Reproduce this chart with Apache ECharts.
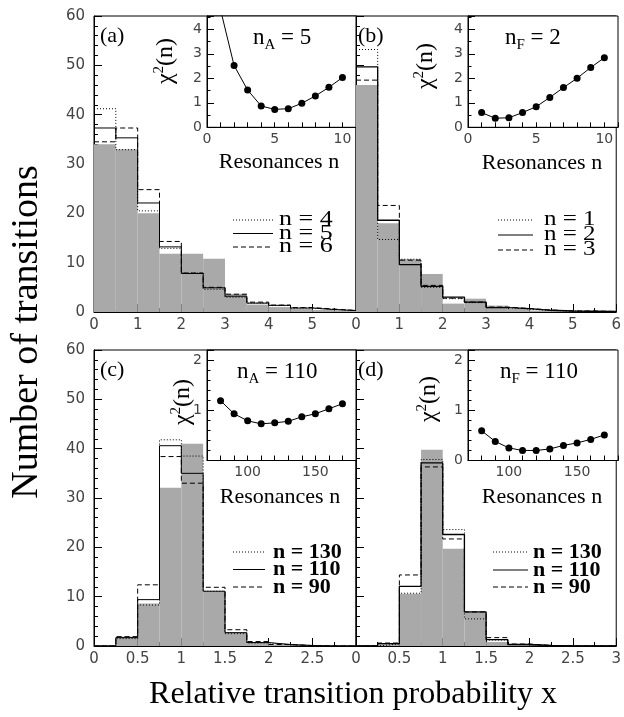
<!DOCTYPE html>
<html><head><meta charset="utf-8">
<script src="https://cdn.jsdelivr.net/npm/echarts@6/dist/echarts.min.js"></script>
<style>html,body{margin:0;padding:0;background:#fff}#c{width:624px;height:717px}</style>
</head><body><div id="c"></div><script>
// ---------- data ----------
const edgesAB = [0,0.5,1,1.5,2,2.5,3,3.5,4,4.5,5,5.5,6];
const edgesCD = [0,0.25,0.5,0.75,1,1.25,1.5,1.75,2,2.25,2.5,2.75,3];

// panel (a)
const dataA = [34, 33, 20, 11.8, 11.8, 10.8, 3.7, 1.5, 1.0, 0.6, 0.4, 0.3];
const n4A   = [41.2, 32.9, 20.5, 12.9, 7.9, 4.6, 3.0, 1.8, 1.3, 0.8, 0.5, 0.3];
const n5A   = [37.3, 35.3, 22.1, 13.2, 7.8, 4.9, 3.2, 1.8, 1.35, 0.8, 0.5, 0.3];
const n6A   = [34.5, 37.3, 24.8, 14.3, 7.9, 5.0, 3.6, 2.0, 1.4, 0.9, 0.6, 0.3];
// panel (b)
const dataB = [46, 18, 10.7, 7.7, 1.7, 2.7, 1.3, 0.6, 0.3, 0.2, 0.2, 0.1];
const n1B   = [53.2, 14.7, 10.7, 5.0, 2.7, 1.9, 0.9, 0.6, 0.3, 0.2, 0.1, 0.1];
const n2B   = [49.7, 18.6, 9.6, 5.2, 3.0, 2.0, 0.9, 0.7, 0.35, 0.2, 0.15, 0.1];
const n3B   = [47.0, 21.6, 10.5, 5.4, 2.8, 2.0, 1.0, 0.7, 0.4, 0.2, 0.2, 0.1];
// panel (c)
const dataC  = [0, 1.9, 8.6, 32.1, 41.0, 11.0, 2.8, 0.7, 0.3, 0, 0, 0];
const n130C  = [0, 1.5, 8.3, 41.8, 38.5, 11.1, 2.5, 0.6, 0.3, 0.1, 0, 0];
const n110C  = [0, 1.7, 9.4, 40.6, 35.0, 11.1, 2.7, 0.7, 0.3, 0.1, 0, 0];
const n90C   = [0, 1.9, 12.4, 38.4, 33.0, 11.9, 3.3, 0.9, 0.3, 0.1, 0, 0];
// panel (d)
const dataD  = [0, 0.5, 10.6, 39.8, 19.7, 6.9, 0.8, 0.3, 0, 0, 0, 0];
const n130D  = [0, 0.4, 10.7, 37.8, 23.6, 5.5, 1.2, 0.3, 0.1, 0, 0, 0];
const n110D  = [0, 0.5, 12.1, 37.1, 22.6, 6.9, 1.3, 0.3, 0.1, 0, 0, 0];
const n90D   = [0, 0.6, 14.4, 36.3, 21.7, 6.9, 1.7, 0.4, 0.1, 0, 0, 0];

// insets chi^2(n)
const resAB = [1,2,3,4,5,6,7,8,9,10];
const chiA  = [4.8, 2.52, 1.52, 0.87, 0.73, 0.76, 0.98, 1.28, 1.63, 2.03];
const chiB  = [0.6, 0.37, 0.39, 0.6, 0.84, 1.22, 1.62, 2.0, 2.44, 2.84];
const resCD = [80,90,100,110,120,130,140,150,160,170];
const chiC  = [1.19, 0.93, 0.79, 0.73, 0.75, 0.78, 0.87, 0.93, 1.03, 1.13];
const chiD  = [0.59, 0.38, 0.25, 0.2, 0.2, 0.23, 0.3, 0.35, 0.42, 0.51];

// tick labels
const yLabelsMain = [0,10,20,30,40,50,60];
const xLabelsA = [0,1,2,3,4,5];
const xLabelsB = [0,1,2,3,4,5,6];
const xLabelsC = [0,0.5,1,1.5,2,2.5];
const xLabelsD = [0,0.5,1,1.5,2,2.5,3];
const insetXLabelsAB = [0,5,10];
const insetXLabelsCD = [100,150];
const insetYLabelsAB = [0,1,2,3,4];
const insetYLabelsC = [1,2];
const insetYLabelsD = [0,1,2];

// texts
const panelLabels = ['(a)','(b)','(c)','(d)'];
const fitLabels = [['A','5'],['F','2'],['A','110'],['F','110']];
const legendA = ['n = 4','n = 5','n = 6'];
const legendB = ['n = 1','n = 2','n = 3'];
const legendC = ['n = 130','n = 110','n = 90'];
const legendD = ['n = 130','n = 110','n = 90'];

// ---------- layout ----------
const SERIF = 'Liberation Serif';
const SANS = 'DejaVu Sans';
const mainGrids = [
  {left:94, top:16, width:262, height:296},
  {left:356, top:16, width:262, height:296},
  {left:94, top:350, width:262, height:296},
  {left:356, top:350, width:262, height:296}
];
const insetGrids = [
  {left:207, top:16, width:149, height:111.3},
  {left:468, top:16, width:150, height:111.3},
  {left:207, top:350, width:149, height:110.5},
  {left:468, top:350, width:150, height:110.5}
];
const grid = mainGrids.map(g => Object.assign({show:true, borderColor:'#000', borderWidth:1, backgroundColor:'transparent'}, g))
  .concat(insetGrids.map(g => Object.assign({show:true, borderColor:'#000', borderWidth:1, backgroundColor:'#fff'}, g)));

const fmt = list => v => list.some(l => Math.abs(l - v) < 1e-6) ? String(+v.toFixed(2)) : '';
const black = {color:'#000', width:1};

function axX(gi, min, max, interval, labels, minorSplit, tickLen, fs){
  return {type:'value', gridIndex:gi, min, max, interval,
    axisLine:{show:true, onZero:false, lineStyle:black},
    axisTick:{show:true, inside:true, length:tickLen, lineStyle:black},
    minorTick:{show:minorSplit>0, splitNumber:minorSplit||1, length:tickLen/2, lineStyle:black},
    splitLine:{show:false}, minorSplitLine:{show:false},
    axisLabel:{show:!!labels, formatter: labels ? fmt(labels) : '', fontSize:fs, color:'#444', fontFamily:SANS, margin:6}};
}
function axY(gi, min, max, interval, labels, minorSplit, tickLen, fs){
  return {type:'value', gridIndex:gi, min, max, interval,
    axisLine:{show:true, onZero:false, lineStyle:black},
    axisTick:{show:true, inside:true, length:tickLen, lineStyle:black},
    minorTick:{show:minorSplit>0, splitNumber:minorSplit||1, length:tickLen/2, lineStyle:black},
    splitLine:{show:false}, minorSplitLine:{show:false},
    axisLabel:{show:!!labels, formatter: labels ? fmt(labels) : '', fontSize:fs, color:'#444', fontFamily:SANS, margin:6}};
}

const xAxis = [
  axX(0, 0, 6, 1, xLabelsA, 2, 8, 15),
  axX(1, 0, 6, 1, xLabelsB, 2, 8, 15),
  axX(2, 0, 3, 0.5, xLabelsC, 2, 8, 15),
  axX(3, 0, 3, 0.5, xLabelsD, 2, 8, 15),
  axX(4, 0, 11, 1, insetXLabelsAB, 0, 5, 14),
  axX(5, 0, 11, 1, insetXLabelsAB, 0, 5, 14),
  axX(6, 70, 180, 10, insetXLabelsCD, 0, 5, 14),
  axX(7, 70, 180, 10, insetXLabelsCD, 0, 5, 14)
];
const yAxis = [
  axY(0, 0, 60, 10, yLabelsMain, 5, 8, 15),
  axY(1, 0, 60, 10, null, 5, 8, 15),
  axY(2, 0, 60, 10, yLabelsMain, 5, 8, 15),
  axY(3, 0, 60, 10, null, 5, 8, 15),
  axY(4, 0, 4.54, 1, insetYLabelsAB, 2, 7, 14),
  axY(5, 0, 4.54, 1, insetYLabelsAB, 2, 7, 14),
  axY(6, 0, 2.2, 1, insetYLabelsC, 5, 7, 14),
  axY(7, 0, 2.2, 1, insetYLabelsD, 5, 7, 14)
];
xAxis.forEach((a,i)=>{ if(i>=4) a.axisLabel.margin = 5; });
yAxis.forEach((a,i)=>{ if(i<4) a.axisLabel.margin = 9; else a.axisLabel.margin = 5; });

function histRender(params, api){
  const p0 = api.coord([api.value(0), api.value(2)]);
  const p1 = api.coord([api.value(1), 0]);
  return {type:'rect', shape:{x:p0[0], y:p0[1], width:p1[0]-p0[0], height:p1[1]-p0[1]},
    style:{fill:'#a9a9a9'}};
}
function dataSeries(gi, edges, vals){
  return {type:'custom', xAxisIndex:gi, yAxisIndex:gi, renderItem:histRender,
    encode:{x:[0,1], y:2}, data: vals.map((v,i)=>[edges[i], edges[i+1], v]), z:1, silent:true};
}
const dashStyles = {dotted:[1,2], solid:'solid', dashed:[5,3]};
function stepSeries(gi, edges, vals, style, w){
  return {type:'line', xAxisIndex:gi, yAxisIndex:gi, step:'end', showSymbol:false, symbol:'none',
    clip:true, silent:true, z:3,
    lineStyle:{color:'#000', width:w||1, type:dashStyles[style]},
    data: edges.map((e,i)=>[e, vals[Math.min(i, vals.length-1)]])};
}
function chiSeries(gi, xs, ys){
  return {type:'line', xAxisIndex:gi, yAxisIndex:gi, symbol:'circle', symbolSize:7, clip:true, silent:true, z:5,
    itemStyle:{color:'#000'}, lineStyle:{color:'#000', width:1},
    data: xs.map((x,i)=>[x, ys[i]])};
}

const series = [
  dataSeries(0, edgesAB, dataA),
  stepSeries(0, edgesAB, n4A, 'dotted'),
  stepSeries(0, edgesAB, n5A, 'solid'),
  stepSeries(0, edgesAB, n6A, 'dashed'),
  dataSeries(1, edgesAB, dataB),
  stepSeries(1, edgesAB, n1B, 'dotted'),
  stepSeries(1, edgesAB, n2B, 'solid', 1.3),
  stepSeries(1, edgesAB, n3B, 'dashed'),
  dataSeries(2, edgesCD, dataC),
  stepSeries(2, edgesCD, n130C, 'dotted'),
  stepSeries(2, edgesCD, n110C, 'solid'),
  stepSeries(2, edgesCD, n90C, 'dashed'),
  dataSeries(3, edgesCD, dataD),
  stepSeries(3, edgesCD, n130D, 'dotted'),
  stepSeries(3, edgesCD, n110D, 'solid', 1.3),
  stepSeries(3, edgesCD, n90D, 'dashed'),
  chiSeries(4, resAB, chiA),
  chiSeries(5, resAB, chiB),
  chiSeries(6, resCD, chiC),
  chiSeries(7, resCD, chiD)
];

// ---------- text graphics ----------
const graphic = [];
// main titles
graphic.push({type:'text', x:27, y:332, rotation:Math.PI/2, z:100, silent:true,
  style:{text:'Number of transitions', fontSize:38, fontFamily:SERIF, fill:'#000', align:'center', verticalAlign:'middle'}});
graphic.push({type:'text', x:353, y:695, z:100, silent:true,
  style:{text:'Relative transition probability x', fontSize:32, fontFamily:SERIF, fill:'#000', align:'center', verticalAlign:'middle'}});

// panel labels
const panelLabelPos = [[100,36],[358,36],[100,370],[358,370]];
panelLabels.forEach((t,i)=>graphic.push({type:'text', x:panelLabelPos[i][0], y:panelLabelPos[i][1], z:100, silent:true,
  style:{text:t, fontSize:22, fontFamily:SERIF, fill:'#000', align:'left', verticalAlign:'middle'}}));

// fit labels n_A = ...
const fitPos = [[253,38],[505,38],[237,372],[500,372]];
fitLabels.forEach((f,i)=>graphic.push({type:'text', x:fitPos[i][0], y:fitPos[i][1], z:100, silent:true,
  style:{text:'{m|n}{s|' + f[0] + '}{m| = ' + f[1] + '}', align:'left', verticalAlign:'middle',
    rich:{m:{fontSize:23, fontFamily:SERIF, fill:'#000', lineHeight:30, verticalAlign:'middle'},
          s:{fontSize:15, fontFamily:SERIF, fill:'#000', lineHeight:30, verticalAlign:'bottom'}}}}));

// chi^2(n) y names
const chiPos = [[166,61],[426,66],[183,402],[429,399]];
chiPos.forEach(p=>graphic.push({type:'text', x:p[0], y:p[1], rotation:Math.PI/2, z:100, silent:true,
  style:{text:'{m|\u03c7}{s|2}{m|(n)}', align:'center', verticalAlign:'middle',
    rich:{m:{fontSize:24, fontFamily:SERIF, fill:'#000', lineHeight:28, verticalAlign:'middle'},
          s:{fontSize:15, fontFamily:SERIF, fill:'#000', lineHeight:28, verticalAlign:'top'}}}}));

// Resonances n
const resPos = [[279,162],[542,163],[280,497],[542,497]];
resPos.forEach(p=>graphic.push({type:'text', x:p[0], y:p[1], z:100, silent:true,
  style:{text:'Resonances n', fontSize:22, fontFamily:SERIF, fill:'#000', align:'center', verticalAlign:'middle'}}));

// legends
const legends = [
  {labels:legendA, x0:233, x1:273, tx:279, rows:[220,233.5,247], bold:false, fs:20, sx:1.3},
  {labels:legendB, x0:498, x1:533, tx:544, rows:[220,235,250], bold:false, fs:20, sx:1.25},
  {labels:legendC, x0:233, x1:265, tx:273, rows:[552,569.5,587], bold:true, fs:22, sx:1.0},
  {labels:legendD, x0:493, x1:528, tx:533, rows:[552,570,587], bold:true, fs:22, sx:1.0}
];
const legendStyles = ['dotted','solid','dashed'];
legends.forEach((L,pi)=>{
  L.rows.forEach((y,i)=>{
    const st = dashStyles[legendStyles[i]];
    graphic.push({type:'line', z:100, silent:true, shape:{x1:L.x0, y1:y, x2:L.x1, y2:y},
      style:{stroke:'#000', lineWidth:1, lineDash: st==='solid'?null:st}});
    graphic.push({type:'text', x:L.tx, y:y, scaleX:L.sx, z:100, silent:true,
      style:{text:L.labels[i], fontSize:L.fs, fontWeight:L.bold?'bold':'normal', fontFamily:SERIF, fill:'#000', align:'left', verticalAlign:'middle'}});
  });
});

const chart = echarts.init(document.getElementById('c'), null, {renderer:'canvas'});
chart.setOption({animation:false, backgroundColor:'#fff', grid, xAxis, yAxis, series, graphic});
</script></body></html>
